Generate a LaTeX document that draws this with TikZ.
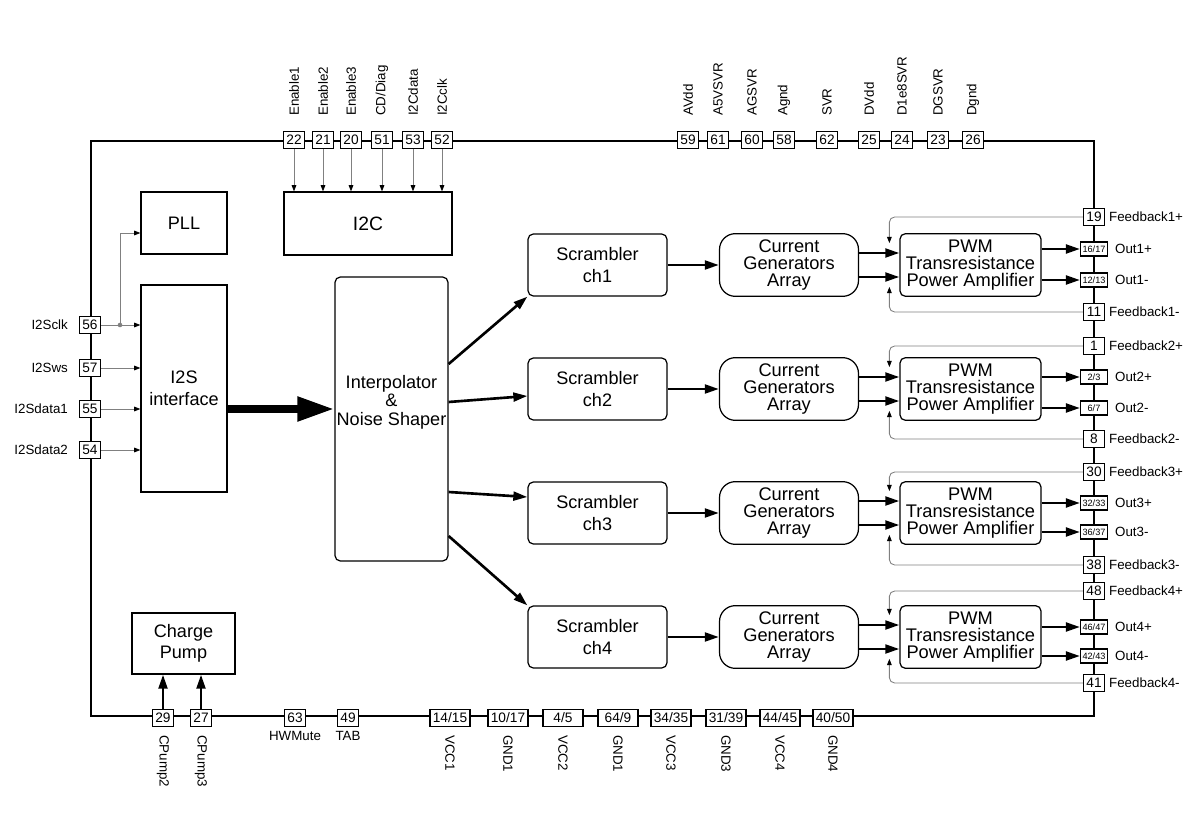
\documentclass[tikz,border=0pt]{standalone}
\usepackage{fontspec}
\setmainfont{Liberation Sans}
\usetikzlibrary{arrows.meta,calc}
\tikzset{
    PIN/.style ={rectangle,draw,fill=white,line width=0.6pt,minimum width=0.42cm,minimum height=0.35cm,inner sep=0pt,font=\fontsize{7.8}{8}\selectfont},
    PINW/.style ={PIN,minimum width=0.8cm},
    PINS/.style ={PIN,minimum width=0.54cm,minimum height=0.28cm,font=\fontsize{5.2}{6}\selectfont},
    BX/.style ={rectangle,draw,line width=0.7pt,align=center,font=\fontsize{10.3}{12.3}\selectfont},
    RB1/.style ={BX,rounded corners=3pt,minimum width=2.78cm,minimum height=1.24cm},
    RB2/.style ={RB1,rounded corners=9pt,font=\fontsize{10.4}{9.8}\selectfont},
    LB/.style ={inner sep=1pt,font=\fontsize{7.6}{8}\selectfont},
    TN/.style ={gray,line width=0.5pt,-{Triangle[length=3.5pt,width=2.6pt,color=black]}},
    TK/.style ={line width=1.5pt,-{Triangle[length=8pt,width=5pt]}},
    BG/.style ={line width=4.5pt,-{Triangle[length=0.74cm,width=0.46cm]}}}

\begin{document}
\begin{tikzpicture}[x=0.02cm,y=-0.02cm]
    \useasboundingbox (0,0) rectangle (1200,824);
    % chip outline
    \draw[line width=1.3pt] (91,141) rectangle (1094,716);
    % blocks
    \node[BX,minimum width=1.72cm,minimum height=1.24cm] (pll) at (184,223) {PLL};
    \node[BX,minimum width=1.72cm,minimum height=4.14cm] (i2s) at (184,388.5) {I2S\\interface};
    \node[BX,minimum width=3.36cm,minimum height=1.26cm,font=\fontsize{11}{13}\selectfont] (i2c) at (368,223.5) {I2C};
    \node[BX,rounded corners=3pt,minimum width=2.26cm,minimum height=5.68cm] (interp) at (391.5,419) {};
    \node[align=center,font=\fontsize{10.3}{10.5}\selectfont] (interptxt) at (391.5,402) {Interpolator\\\&\\Noise Shaper};
    \node[BX,minimum width=2.06cm,minimum height=1.22cm] (cp) at (183.5,643.5) {Charge\\Pump};
    % top pins
    \foreach \x/\n/\l in {294/22/Enable1, 323/21/Enable2, 351/20/Enable3, 382/51/{CD/Diag}, 413/53/I2Cdata, 442/52/I2Cclk}{
        \node[PIN] (t\n) at (\x,140) {\n};
        \node[LB,rotate=90,anchor=west] (t\n-l) at (\x,118) {\l};
        \draw[TN] (t\n) -- (t\n |- i2c.north);}
    \foreach \x/\n/\l in {688/59/AVdd, 718/61/A5VSVR, 752/60/AGSVR, 784/58/Agnd, 827/62/SVR, 869/25/DVdd, 902/24/D1e8SVR, 938/23/DGSVR, 973/26/Dgnd}{
        \node[PIN] (t\n) at (\x,140) {\n};
        \node[LB,rotate=90,anchor=west] (t\n-l) at (\x,118) {\l};}
    % left pins
    \foreach \y/\n/\l in {325/56/I2Sclk, 368/57/I2Sws, 409/55/I2Sdata1, 450/54/I2Sdata2}{
        \node[PIN] (l\n) at (90,\y) {\n};
        \node[LB,anchor=east] (l\n-l) at (70,\y) {\l};
        \draw[TN] (l\n) -- (l\n -| i2s.west);}
    \coordinate (clk) at (120,325);
    \fill[gray] (clk) circle (1.3pt);
    \draw[TN] (clk) |- ($(pll.west)+(0,10)$);
    % bottom pins
    \foreach \x/\n/\l in {163/29/CPump2, 201/27/CPump3}{
        \node[PIN] (b\n) at (\x,718) {\n};
        \node[LB,rotate=-90,anchor=west] (b\n-l) at (\x,733) {\l};
        \draw[TK] (b\n) -- (b\n |- cp.south);}
    \foreach \x/\n/\l in {295/63/HWMute, 348/49/TAB}{
        \node[PIN] (b\n) at (\x,718) {\n};
        \node[LB,anchor=north] (b\n-l) at (\x,729) {\l};}
    \foreach \x/\n/\l [count=\k] in {450/{14/15}/VCC1, 508/{10/17}/GND1, 563/{4/5}/VCC2, 618/{64/9}/GND1, 671/{34/35}/VCC3, 726/{31/39}/GND3, 780/{44/45}/VCC4, 833/{40/50}/GND4}{
        \node[PINW] (p\k) at (\x,718) {\n};
        \node[LB,rotate=-90,anchor=west] (p\k-l) at (\x,733) {\l};}
    % right pins
    \foreach \y/\n/\l/\m in {217/19/Feedback1+/fp1, 312/11/Feedback1-/fm1, 346/1/Feedback2+/fp2, 439/8/Feedback2-/fm2, 472/30/Feedback3+/fp3, 565/38/Feedback3-/fm3, 591/48/Feedback4+/fp4, 683/41/Feedback4-/fm4}{
        \node[PIN] (\m) at (1094,\y) {\n};
        \node[LB,anchor=west] (\m-l) at ([xshift=0.04cm]\m.east) {\l};}
    \foreach \y/\n/\l/\m in {249/{16/17}/Out1+/op1, 280/{12/13}/Out1-/om1, 377/{2/3}/Out2+/op2, 408/{6/7}/Out2-/om2, 503/{32/33}/Out3+/op3, 532/{36/37}/Out3-/om3, 627/{46/47}/Out4+/op4, 656/{42/43}/Out4-/om4}{
        \node[PINS] (\m) at (1094,\y) {\n};
        \node[LB,anchor=west] (\m-l) at ([xshift=0.1cm]\m.east) {\l};}
    % channels
    \foreach \i/\t in {1/265, 2/389, 3/513, 4/637}{
        \node[RB1] (scr\i) at (597.5,\t) {Scrambler\\ch\i};
        \node[RB2] (cga\i) at (789,\t) {Current\\Generators\\Array};
        \node[RB1,font=\fontsize{10.4}{9.8}\selectfont] (pwm\i) at (970.5,\t) {PWM\\Transresistance\\Power Amplifier};
        \draw[TK] (scr\i) -- (cga\i);
        \draw[TK] ($(cga\i.east)+(0,-12)$) -- ($(pwm\i.west)+(0,-12)$);
        \draw[TK] ($(cga\i.east)+(0,12)$) -- ($(pwm\i.west)+(0,12)$);
        \draw[TK] (pwm\i.east |- op\i) -- (op\i);
        \draw[TK] (pwm\i.east |- om\i) -- (om\i);
        \draw[TN,rounded corners=3pt] (fp\i) -| ($(pwm\i.north west)+(-10,10)$);
        \draw[TN,rounded corners=3pt] (fm\i) -| ($(pwm\i.south west)+(-10,-10)$);}
    % interpolator outputs
    \draw[TK] ($(interp.east)+(0,-55)$) -- (scr1.south west);
    \draw[TK] ($(interp.east)+(0,-17)$) -- ($(scr2.west)+(0,7)$);
    \draw[TK] ($(interp.east)+(0,73)$) -- ($(scr3.west)+(0,-16)$);
    \draw[TK] ($(interp.east)+(0,117)$) -- (scr4.north west);
    \coordinate (bg) at (0,409);
    \draw[BG] (i2s.east |- bg) -- (interp.west |- bg);
\end{tikzpicture}
\end{document}
